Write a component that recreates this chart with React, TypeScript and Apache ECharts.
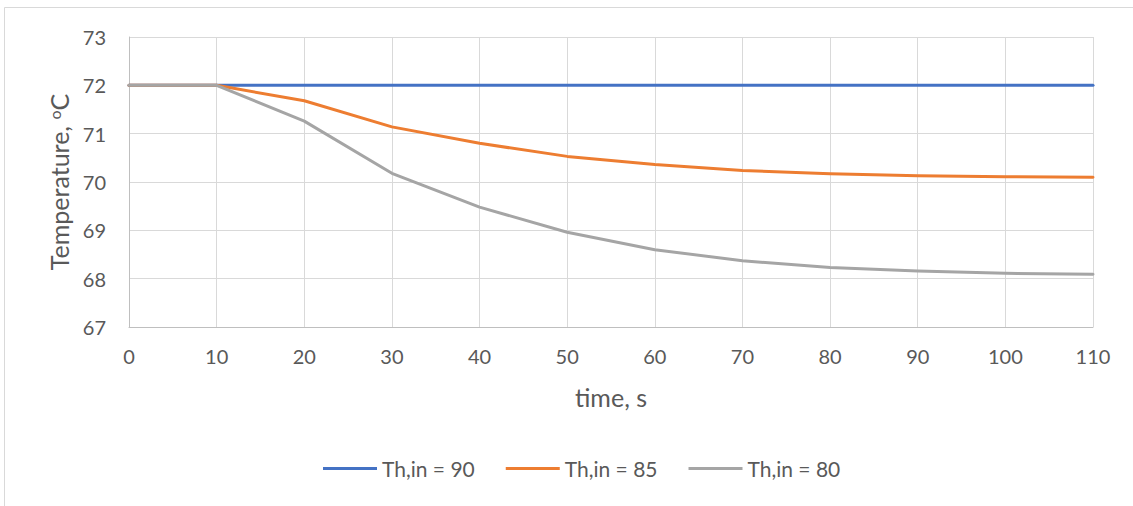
import React, { useEffect, useRef } from "react";
import * as echarts from "echarts";

const timeValues = [0, 10, 20, 30, 40, 50, 60, 70, 80, 90, 100, 110];
const th90 = [72, 72, 72, 72, 72, 72, 72, 72, 72, 72, 72, 72];
const th85 = [72, 72, 71.68, 71.14, 70.8, 70.53, 70.36, 70.24, 70.17, 70.13, 70.11, 70.1];
const th80 = [72, 72, 71.26, 70.18, 69.48, 68.96, 68.6, 68.37, 68.23, 68.16, 68.11, 68.09];
const seriesNames = ["Th,in = 90", "Th,in = 85", "Th,in = 80"];
const seriesColors = ["#4472C4", "#ED7D31", "#A5A5A5"];

const FONT = "Lato";
const TXT = "#595959";

export default function App() {
  const ref = useRef<HTMLDivElement>(null);
  useEffect(() => {
    document.body.style.margin = "0";
    const chart = echarts.init(ref.current!, null, { renderer: "svg" });
    const all = [th90, th85, th80];
    chart.setOption({
      animation: false,
      backgroundColor: "#fff",
      textStyle: { fontFamily: FONT, color: TXT },
      graphic: [
        {
          type: "rect",
          shape: { x: 4.5, y: 7.5, width: 1200, height: 600 },
          style: { fill: "none", stroke: "#d9d9d9", lineWidth: 1 },
          silent: true,
        },
      ],
      grid: { left: 129, right: 40, top: 37, bottom: 179 },
      legend: {
        left: 318,
        top: 453,
        icon: "rect",
        itemWidth: 54,
        itemHeight: 3,
        itemGap: 31,
        itemTextGap: 4,
        textStyle: { fontFamily: FONT, fontSize: 21, color: TXT },
        data: seriesNames,
      },
      xAxis: {
        type: "value",
        min: 0,
        max: 110,
        interval: 10,
        name: "time, s",
        nameLocation: "middle",
        nameGap: 57,
        nameTextStyle: { fontFamily: FONT, fontSize: 25, color: TXT },
        axisLine: { show: true, lineStyle: { color: "#bfbfbf", width: 1 } },
        axisTick: { show: false },
        axisLabel: { fontFamily: FONT, fontSize: 20, color: TXT, margin: 19 },
        splitLine: { show: true, lineStyle: { color: "#d9d9d9", width: 1 } },
      },
      yAxis: {
        type: "value",
        min: 67,
        max: 73,
        interval: 1,
        name: "Temperature, {s|o}C",
        nameLocation: "middle",
        nameGap: 54,
        nameTextStyle: {
          fontFamily: FONT,
          fontSize: 25,
          color: TXT,
          rich: {
            s: { fontFamily: FONT, fontSize: 16, color: TXT, verticalAlign: "top", padding: [0, 0, 10, 0] },
          },
        },
        axisLine: { show: true, lineStyle: { color: "#bfbfbf", width: 1 } },
        axisTick: { show: false },
        axisLabel: { fontFamily: FONT, fontSize: 20, color: TXT, margin: 23 },
        splitLine: { show: true, lineStyle: { color: "#d9d9d9", width: 1 } },
      },
      series: seriesNames.map((n, i) => ({
        name: n,
        type: "line",
        data: timeValues.map((t, j) => [t, all[i][j]]),
        showSymbol: false,
        symbol: "none",
        lineStyle: { color: seriesColors[i], width: 3, cap: "round", join: "round" },
        itemStyle: { color: seriesColors[i] },
      })),
    });
    return () => chart.dispose();
  }, []);
  return <div ref={ref} style={{ width: 1133, height: 506 }} />;
}
